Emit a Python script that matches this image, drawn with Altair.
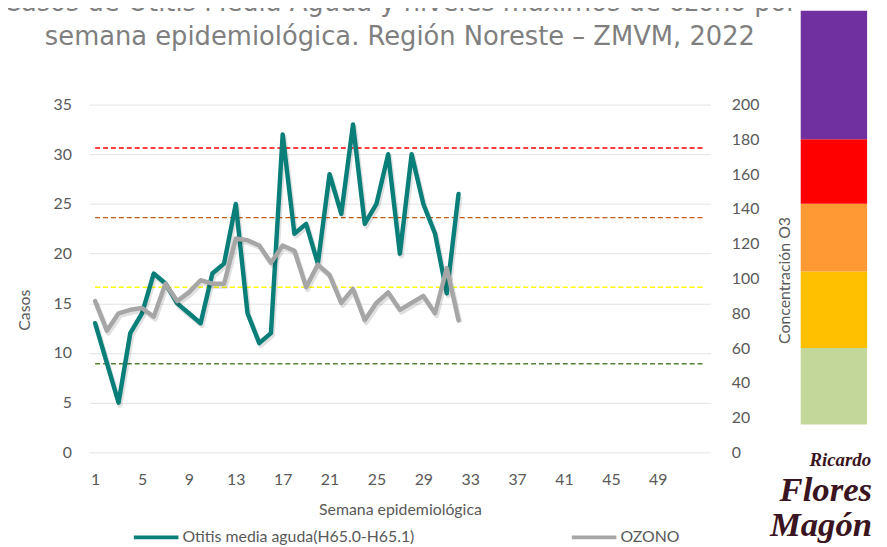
import altair as alt
import pandas as pd

# ---------------- data ----------------
weeks = list(range(1, 33))
otitis = [13, 9, 5, 12, 14, 18, 17, 15, 14, 13, 18, 19, 25, 14, 11, 12,
          32, 22, 23, 19, 28, 24, 33, 23, 25, 30, 20, 30, 25, 22, 16, 26]
ozono = [87, 70, 80, 82, 83, 78, 97, 87, 92, 99, 97, 97, 123, 122, 119, 109,
         119, 116, 95, 108, 102, 86, 94, 76, 86, 92, 82, 86, 90, 80, 106, 76]

threshold_values = [51, 95, 135, 175]
threshold_colors = ["#548235", "#FFFF00", "#C55A11", "#FF0000"]
threshold_start = [1, 1, 1, 1]
threshold_end = [53, 53, 53, 53]

band_low = [16, 60, 104, 143, 180]
band_high = [60, 104, 143, 180, 254]
band_colors = ["#C4D79B", "#FFC000", "#FF9933", "#FF0000", "#7030A0"]

x_ticks = list(range(1, 50, 4))
left_ticks = list(range(0, 36, 5))
right_ticks = list(range(0, 201, 20))

series_names = ["Otitis media aguda(H65.0-H65.1)", "OZONO"]
series_colors = ["#0A7F7A", "#A6A6A6"]

title_lines = ["Casos de Otitis Media Aguda y niveles máximos de ozono por",
               "semana epidemiológica. Región Noreste – ZMVM, 2022"]
logo_words = ["Ricardo", "Flores", "Magón"]

# ---------------- frames ----------------
df = pd.DataFrame({"semana": weeks, "otitis": otitis, "ozono": ozono})
thr = pd.DataFrame({"valor": threshold_values, "color": threshold_colors,
                    "ini": threshold_start, "fin": threshold_end})
bands = pd.DataFrame({"lo": band_low, "hi": band_high, "color": band_colors})
logo_df = pd.DataFrame({"w": logo_words})

FONT = "Lato"
GRAY = "#595959"

xscale = alt.Scale(domain=[0.5, 53.5], nice=False, zero=False)
x_axis = alt.Axis(values=x_ticks, title="Semana epidemiológica", grid=False,
                  ticks=False, domain=False, labelPadding=19, titlePadding=15,
                  labelFontSize=16, titleFontSize=16, labelColor=GRAY,
                  titleColor=GRAY, labelFont=FONT, titleFont=FONT,
                  titleFontWeight="normal", format="d", labelFlush=False)

left_scale = alt.Scale(domain=[0, 35], nice=False)
right_scale = alt.Scale(domain=[0, 200], nice=False)

color_scale = alt.Scale(domain=series_names, range=series_colors)
legend = alt.Legend(orient="none", legendX=43, legendY=412, direction="horizontal",
                    title=None, symbolType="stroke", symbolStrokeWidth=4,
                    symbolSize=2025, labelFontSize=16, labelColor=GRAY,
                    labelFont=FONT, columnPadding=150, labelOffset=2, labelLimit=0)

left_axis = alt.Axis(values=left_ticks, title="Casos", grid=True, gridColor="#E3E3E3",
                     gridWidth=1, ticks=False, domain=False, labelPadding=18,
                     labelFontSize=16, labelColor=GRAY, labelFont=FONT,
                     titleFontSize=16, titleColor=GRAY, titleFont=FONT,
                     titleFontWeight="normal", titleX=-65, titleY=207,
                     titleAngle=270, titleAlign="center", titleBaseline="middle")

right_axis = alt.Axis(orient="right", values=right_ticks, title="Concentración O3",
                      grid=False, ticks=False, domain=False, labelPadding=21,
                      labelFontSize=16, labelColor=GRAY, labelFont=FONT,
                      titleFontSize=16, titleColor=GRAY, titleFont=FONT,
                      titleFontWeight="normal", titleX=75, titleY=177,
                      titleAngle=270, titleAlign="center", titleBaseline="middle")

# ---------- background group (ozone scale): thresholds, colour band, logo ----------
rules = alt.Chart(thr).mark_rule(strokeDash=[5, 3], strokeWidth=1.5).encode(
    x=alt.X("ini:Q", scale=xscale, axis=x_axis),
    x2="fin:Q",
    y=alt.Y("valor:Q", scale=right_scale, axis=None),
    stroke=alt.Stroke("color:N", scale=None),
)

band = alt.Chart(bands).mark_rect().encode(
    x=alt.value(718), x2=alt.value(785),
    y=alt.Y("lo:Q", scale=right_scale, axis=None),
    y2="hi:Q",
    fill=alt.Fill("color:N", scale=None),
)

logo_color = "#3A1420"
logo1 = alt.Chart(logo_df).transform_filter(alt.datum.w == logo_words[0]).mark_text(
    font="Liberation Serif", fontStyle="italic", fontWeight="bold", fontSize=19,
    color=logo_color, align="right", baseline="alphabetic").encode(
    text="w:N", x=alt.value(789), y=alt.value(365))
logo2 = alt.Chart(logo_df).transform_filter(alt.datum.w == logo_words[1]).mark_text(
    font="Liberation Serif", fontStyle="italic", fontWeight="bold", fontSize=35,
    color=logo_color, align="right", baseline="alphabetic").encode(
    text="w:N", x=alt.value(790), y=alt.value(400))
logo3 = alt.Chart(logo_df).transform_filter(alt.datum.w == logo_words[2]).mark_text(
    font="Liberation Serif", fontStyle="italic", fontWeight="bold", fontSize=35,
    color=logo_color, align="right", baseline="alphabetic").encode(
    text="w:N", x=alt.value(790), y=alt.value(435))

bg = alt.layer(rules, band, logo1, logo2, logo3)

# ---------- otitis (left scale) ----------
base = alt.Chart(df)
teal_shadow = base.mark_line(color="#000000", opacity=0.12, strokeWidth=5,
                             xOffset=1.5, yOffset=2.5, strokeJoin="round").encode(
    x=alt.X("semana:Q", scale=xscale, axis=x_axis),
    y=alt.Y("otitis:Q", scale=left_scale, axis=left_axis))
teal = base.transform_calculate(serie=f"'{series_names[0]}'").mark_line(
    strokeWidth=4.5, strokeJoin="round", strokeCap="round").encode(
    x=alt.X("semana:Q", scale=xscale, axis=x_axis),
    y=alt.Y("otitis:Q", scale=left_scale, axis=left_axis),
    color=alt.Color("serie:N", scale=color_scale, legend=legend),
)
left = alt.layer(teal_shadow, teal)

# ---------- ozone (right scale) ----------
gray_shadow = base.mark_line(color="#000000", opacity=0.12, strokeWidth=5,
                             xOffset=1.5, yOffset=2.5, strokeJoin="round").encode(
    x=alt.X("semana:Q", scale=xscale, axis=x_axis),
    y=alt.Y("ozono:Q", scale=right_scale, axis=right_axis))
gray = base.transform_calculate(serie=f"'{series_names[1]}'").mark_line(
    strokeWidth=4.5, strokeJoin="round", strokeCap="round").encode(
    x=alt.X("semana:Q", scale=xscale, axis=x_axis),
    y=alt.Y("ozono:Q", scale=right_scale, axis=right_axis),
    color=alt.Color("serie:N", scale=color_scale, legend=legend),
)
right = alt.layer(gray_shadow, gray)

chart = alt.layer(bg, left, right).resolve_scale(
    y="independent"
).properties(
    width=627, height=351,
    autosize=alt.AutoSizeParams(type="none"),
    padding={"left": 82, "top": 95, "right": 170, "bottom": 93},
    title=alt.TitleParams(text=title_lines, font="DejaVu Sans", fontSize=26,
                          fontWeight="normal", color="#7F7F7F", lineHeight=35,
                          anchor="middle", frame="group", offset=-40),
).configure_view(stroke=None)

chart.save("out.html", embed_options={"renderer": "svg", "actions": False})
